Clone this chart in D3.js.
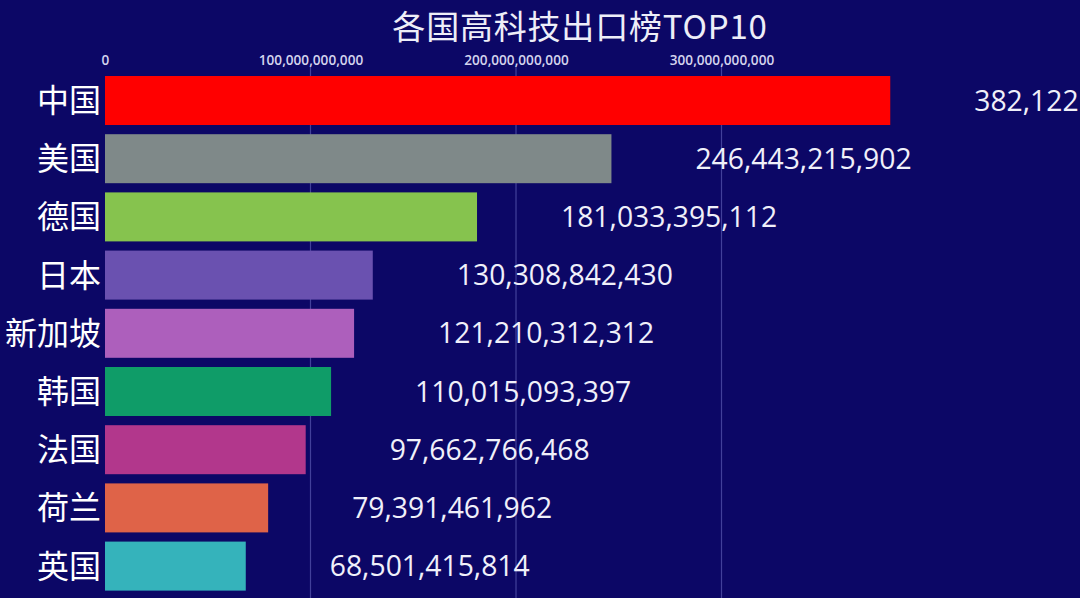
<!DOCTYPE html>
<html>
<head>
<meta charset="utf-8">
<script src="https://cdn.jsdelivr.net/npm/d3@7/dist/d3.min.js"></script>
<style>
html,body{margin:0;padding:0;background:#0c0766;overflow:hidden;}
svg{display:block;}
</style>
</head>
<body>
<svg id="chart" width="1080" height="598"></svg>
<script>
const title = "各国高科技出口榜TOP10";
const countries = ["中国","美国","德国","日本","新加坡","韩国","法国","荷兰","英国"];
const values = [382122000000, 246443215902, 181033395112, 130308842430, 121210312312, 110015093397, 97662766468, 79391461962, 68501415814];
const valueLabels = ["382,122","246,443,215,902","181,033,395,112","130,308,842,430","121,210,312,312","110,015,093,397","97,662,766,468","79,391,461,962","68,501,415,814"];
const colors = ["#ff0000","#7f8989","#86c34e","#6a51b0","#ad5fbc","#0f9c68","#b2378c","#df6348","#35b3bb"];
const tickValues = [0, 100000000000, 200000000000, 300000000000];

const svg = d3.select("#chart");
svg.append("rect").attr("width",1080).attr("height",598).attr("fill","#0c0766");

const x = d3.scaleLinear().domain([0, 100000000000]).range([105, 310.5]);
const y = d3.scaleBand().domain(countries).range([66.8, 599.8]).padding(0.158);

// gridlines
svg.append("g").selectAll("line").data(tickValues.slice(1)).join("line")
  .attr("x1", d => x(d)).attr("x2", d => x(d))
  .attr("y1", 66).attr("y2", 598)
  .attr("stroke", "#5a58b0").attr("stroke-opacity", 0.7).attr("stroke-width", 1.2);

// top axis
const axis = d3.axisTop(x).tickValues(tickValues).tickFormat(d3.format(",")).tickSize(0).tickPadding(0);
const ax = svg.append("g").attr("transform","translate(0,65)").call(axis);
ax.select(".domain").remove();
ax.selectAll("text")
  .attr("fill","#d4d4ee")
  .attr("font-family","'Open Sans', 'Noto Sans', sans-serif")
  .attr("font-weight","600")
  .attr("font-size","13.6px")
  .attr("dy","0");

// bars
svg.append("g").selectAll("rect").data(countries).join("rect")
  .attr("x", x(0))
  .attr("y", d => y(d))
  .attr("width", (d,i) => x(values[i]) - x(0))
  .attr("height", y.bandwidth())
  .attr("fill", (d,i) => colors[i]);

// country labels
svg.append("g").selectAll("text").data(countries).join("text")
  .attr("x", 101)
  .attr("y", d => y(d) + y.bandwidth()/2)
  .attr("dy", "0.36em")
  .attr("text-anchor","end")
  .attr("fill","#ffffff")
  .attr("font-family","'Noto Sans CJK SC', sans-serif")
  .attr("font-size","32px")
  .text(d => d);

// value labels
svg.append("g").selectAll("text").data(countries).join("text")
  .attr("x", (d,i) => x(values[i]) + 84)
  .attr("y", d => y(d) + y.bandwidth()/2)
  .attr("dy", "0.36em")
  .attr("fill","#f0f0fa")
  .attr("font-family","'Open Sans', 'Noto Sans', sans-serif")
  .attr("font-size","28.3px")
  .text((d,i) => valueLabels[i]);

// title
svg.append("text")
  .attr("x", 580).attr("y", 38.5)
  .attr("text-anchor","middle")
  .attr("fill","#eeeef8")
  .attr("font-family","'Noto Sans CJK SC', sans-serif")
  .attr("font-size","33px")
  .attr("letter-spacing","0.8px")
  .text(title);
</script>
</body>
</html>
